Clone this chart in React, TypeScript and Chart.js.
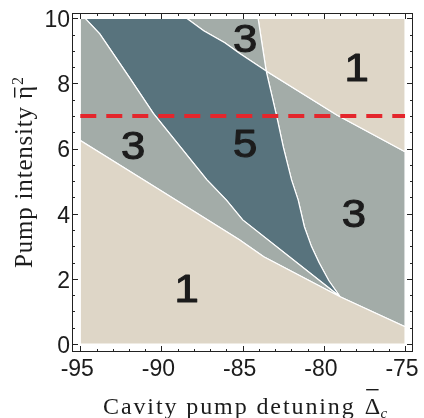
import React, { useEffect, useRef } from 'react';
import { Chart, registerables } from 'chart.js';

Chart.register(...registerables);

// Axis ticks
const xTickValues = [-95, -90, -85, -80, -75];
const yTickValues = [0, 2, 4, 6, 8, 10];

// Phase boundaries
const lowerX = [-95, -90, -85.2, -83.7, -79.0, -75];
const lowerY = [6.25, 4.7, 3.2, 2.68, 1.45, 0.53];

const leftX = [-94.7, -93.8, -92.0, -90.5, -87.2, -86.0, -85.0, -79.0];
const leftY = [10, 9.52, 8.2, 7.08, 5.04, 4.42, 3.81, 1.45];

const steepX = [-79.0, -79.7, -80.3, -80.76, -81.2, -81.58, -81.99, -82.5, -82.9, -83.55, -84.05];
const steepY = [1.45, 1.95, 2.5, 2.99, 3.6, 4.42, 5.04, 6.05, 6.98, 8.38, 10];

const upperX = [-88.45, -87.4, -86.1, -85.2, -83.55, -79.2, -75];
const upperY = [10, 9.62, 9.25, 8.93, 8.38, 7.03, 5.9];

// Dashed pump line
const dashX = [-95, -75];
const dashY = [7, 7];

// Region labels
const labelText = ['3', '1', '3', '5', '3', '1'];
const labelX = [-84.85, -77.98, -91.74, -84.85, -78.15, -88.45];
const labelY = [9.39, 8.51, 6.11, 6.16, 4.01, 1.71];

const BEIGE = '#DED6C7';
const GRAY = '#A3ACA8';
const DARK = '#58737D';
const RED = '#E4262C';
const INK = '#1c1c1c';

type P = { x: number; y: number };
const pts = (xs: number[], ys: number[]): P[] => xs.map((x, i) => ({ x, y: ys[i] }));
const close = (p: P[]): P[] => [...p, p[0]];

const lower = pts(lowerX, lowerY);
const left = pts(leftX, leftY);
const steep = pts(steepX, steepY);
const upper = pts(upperX, upperY);
const PI_STEEP = steepX.length - 2; // index of triple point in steep
const PI_UPPER = 4; // index of triple point in upper
const L79 = 4; // index of cusp in lower

const bottom1 = close([{ x: -95, y: 0 }, { x: -75, y: 0 }, ...lower.slice().reverse()]);
const left3 = close([...lower.slice(0, L79 + 1), ...left.slice(0, -1).reverse(), { x: -95, y: 10 }]);
const dark5 = close([...left, ...steep.slice(1, PI_STEEP + 1), ...upper.slice(0, PI_UPPER).reverse()]);
const top3 = close([...upper.slice(0, PI_UPPER + 1), steep[PI_STEEP + 1]]);
const topRight1 = close([steep[PI_STEEP + 1], ...upper.slice(PI_UPPER), { x: -75, y: 10 }]);
const right3 = close([
  ...steep.slice(0, PI_STEEP + 1).reverse(),
  ...lower.slice(L79 + 1),
  ...upper.slice(PI_UPPER + 1).reverse(),
]);

const region = (data: P[], color: string) => ({
  data,
  fill: 'shape' as const,
  backgroundColor: color,
  borderColor: '#ffffff',
  borderWidth: 1.2,
  pointRadius: 0,
  tension: 0,
});

const decor = {
  id: 'decor',
  afterDatasetsDraw(chart: any) {
    const { ctx, scales } = chart;
    const x = scales.x;
    const y = scales.y;
    ctx.save();
    ctx.fillStyle = INK;
    ctx.strokeStyle = INK;
    ctx.lineWidth = 1.1;
    ctx.lineJoin = 'round';
    ctx.font = '39px "Liberation Sans", Arial, sans-serif';
    ctx.textAlign = 'center';
    ctx.textBaseline = 'alphabetic';
    labelText.forEach((t, i) => {
      const px = x.getPixelForValue(labelX[i]);
      const py = y.getPixelForValue(labelY[i]);
      ctx.save();
      ctx.translate(px, py + 14);
      ctx.scale(1.12, 1);
      ctx.fillText(t, 0, 0);
      ctx.strokeText(t, 0, 0);
      ctx.restore();
    });
    ctx.restore();
  },
  afterDraw(chart: any) {
    const { ctx, chartArea: a, scales } = chart;
    const x = scales.x;
    const y = scales.y;
    ctx.save();
    // frame
    ctx.strokeStyle = '#222';
    ctx.lineWidth = 1;
    ctx.strokeRect(a.left + 0.5, a.top + 0.5, a.right - a.left - 1, a.bottom - a.top - 1);
    ctx.beginPath();
    for (let v = -95; v <= -75; v += 1) {
      const px = Math.round(x.getPixelForValue(v)) + 0.5;
      const len = v % 5 === 0 ? 6 : 3;
      ctx.moveTo(px, a.bottom);
      ctx.lineTo(px, a.bottom - len);
      ctx.moveTo(px, a.top);
      ctx.lineTo(px, a.top + len);
    }
    for (let v = 0; v <= 10; v += 0.5) {
      const py = Math.round(y.getPixelForValue(v)) + 0.5;
      const len = v % 2 === 0 ? 6 : 3;
      ctx.moveTo(a.left, py);
      ctx.lineTo(a.left + len, py);
      ctx.moveTo(a.right, py);
      ctx.lineTo(a.right - len, py);
    }
    ctx.stroke();

    // x title
    ctx.fillStyle = INK;
    ctx.textAlign = 'left';
    ctx.textBaseline = 'alphabetic';
    ctx.font = '24px "Liberation Serif", "Times New Roman", serif';
    (ctx as any).letterSpacing = '1.9px';
    const xt = 'Cavity pump detuning';
    ctx.fillText(xt, 103, 414);
    const w = ctx.measureText(xt).width;
    (ctx as any).letterSpacing = '0px';
    const dx = 103 + w + 9;
    ctx.fillText('\u0394', dx, 414);
    const dw = ctx.measureText('\u0394').width;
    ctx.fillRect(dx + 1.5, 389, dw - 3, 1.4);
    ctx.font = 'italic 15px "Liberation Serif", "Times New Roman", serif';
    ctx.fillText('c', dx + dw + 0.5, 418);

    // y title
    ctx.save();
    ctx.translate(32, 268);
    ctx.rotate(-Math.PI / 2);
    ctx.font = '25px "Liberation Serif", "Times New Roman", serif';
    (ctx as any).letterSpacing = '0.8px';
    const yt = 'Pump intensity ';
    ctx.fillText(yt, 0, 0);
    const w2 = ctx.measureText(yt).width;
    (ctx as any).letterSpacing = '0px';
    ctx.fillText('\u03b7', w2, 0);
    const ew = ctx.measureText('\u03b7').width;
    ctx.fillRect(w2 + 1.5, -18, ew - 3, 1.4);
    ctx.font = '16px "Liberation Serif", "Times New Roman", serif';
    ctx.fillText('2', w2 + ew + 1, -9);
    ctx.restore();

    ctx.restore();
  },
};

export default function App() {
  const ref = useRef<HTMLCanvasElement | null>(null);
  useEffect(() => {
    if (!ref.current) return;
    const tickFont = { family: '"Liberation Sans", Arial, sans-serif', size: 23 };
    const chart = new Chart(ref.current, {
      type: 'line',
      data: {
        datasets: [
          {
            data: pts(dashX, dashY),
            borderColor: RED,
            borderWidth: 4,
            borderDash: [16, 10],
            pointRadius: 0,
            fill: false,
          },
          region(bottom1, BEIGE),
          region(left3, GRAY),
          region(dark5, DARK),
          region(top3, GRAY),
          region(topRight1, BEIGE),
          region(right3, GRAY),
        ] as any,
      },
      options: {
        responsive: false,
        animation: false,
        layout: { padding: { left: 0, top: 13, right: 11, bottom: 0 } },
        plugins: { legend: { display: false }, tooltip: { enabled: false } },
        scales: {
          x: {
            type: 'linear',
            min: -95.51,
            max: -74.51,
            grid: { display: false, drawTicks: false },
            border: { display: false },
            afterBuildTicks: (s: any) => {
              s.ticks = xTickValues.map((v) => ({ value: v }));
            },
            afterFit: (s: any) => {
              s.height = 66;
              s.paddingLeft = 0;
              s.paddingRight = 0;
            },
            ticks: {
              font: tickFont,
              color: INK,
              padding: 4,
              labelOffset: -3,
              maxRotation: 0,
              autoSkip: false,
              callback: (v: any) => String(v),
            },
          },
          y: {
            type: 'linear',
            min: -0.246,
            max: 10.163,
            grid: { display: false, drawTicks: false },
            border: { display: false },
            afterBuildTicks: (s: any) => {
              s.ticks = yTickValues.map((v) => ({ value: v }));
            },
            afterFit: (s: any) => {
              s.width = 72;
              s.paddingTop = 0;
              s.paddingBottom = 0;
            },
            ticks: {
              font: tickFont,
              color: INK,
              padding: 2,
              labelOffset: 2.5,
              autoSkip: false,
              callback: (v: any) => String(v),
            },
          },
        },
      } as any,
      plugins: [decor],
    });
    return () => chart.destroy();
  }, []);
  return (
    <div style={{ position: 'absolute', left: 0, top: 0, width: 424, height: 418, background: '#fff' }}>
      <canvas ref={ref} width={424} height={418} />
    </div>
  );
}
